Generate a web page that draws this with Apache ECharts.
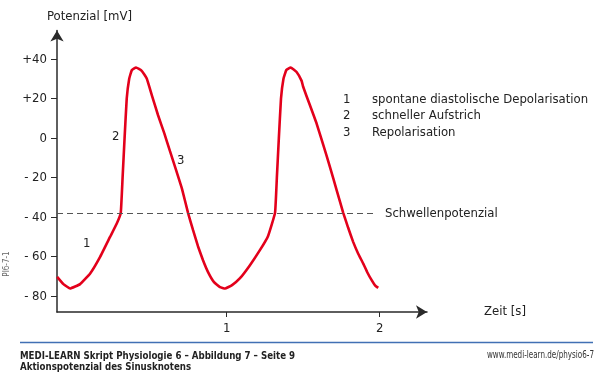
<!DOCTYPE html>
<html>
<head>
<meta charset="utf-8">
<script src="https://cdn.jsdelivr.net/npm/echarts@6/dist/echarts.min.js"></script>
<style>
  html, body { margin: 0; padding: 0; background: #ffffff; }
  #chart { width: 600px; height: 382px; }
</style>
</head>
<body>
<div id="chart"></div>
<script>
// ---- data ----
const timeS = [
  -0.109, -0.068, -0.024, 0.041, 0.107, 0.172, 0.237, 0.281, 0.307,
  0.319, 0.332, 0.346, 0.362, 0.379, 0.407, 0.444, 0.477, 0.512, 0.551,
  0.592, 0.629, 0.669, 0.708, 0.747, 0.780, 0.812, 0.845, 0.878, 0.917,
  0.956, 0.989, 1.035, 1.087, 1.152, 1.217, 1.270, 1.316,
  1.328, 1.341, 1.355, 1.371, 1.390, 1.418, 1.457, 1.490, 1.500, 1.545,
  1.588, 1.632, 1.675, 1.718, 1.762, 1.795, 1.827, 1.860, 1.893, 1.920,
  1.948, 1.970, 1.991
];
const potentialMV = [
  -70.2, -73.9, -76.1, -73.9, -68.5, -60.1, -50.0, -43.2, -37.8,
  -20.0, 0.0, 20.0, 30.0, 34.4, 35.8, 34.1, 30.2, 21.3, 11.6,
  2.4, -6.6, -16.2, -25.8, -37.8, -46.6, -54.7, -61.8, -67.8, -72.9,
  -75.4, -76.1, -74.4, -70.9, -64.3, -56.7, -49.6, -37.8,
  -20.0, 0.0, 20.0, 30.0, 34.5, 35.8, 33.5, 29.0, 26.0, 16.5,
  7.4, -3.5, -14.5, -26.0, -37.8, -45.5, -52.5, -58.5, -63.5, -68.0,
  -71.9, -74.5, -75.8
];
const thresholdMV = -38;
const yTickValues = [-80, -60, -40, -20, 0, 20, 40];
const xTickValues = [1, 2];
const legendNumbers = ['1', '2', '3'];
const legendTexts = ['spontane diastolische Depolarisation', 'schneller Aufstrich', 'Repolarisation'];

// ---- chart ----
const FONT = "'DejaVu Sans Condensed', 'Liberation Sans Narrow', 'Liberation Sans', sans-serif";
const TXT = '#222222';
const seriesData = timeS.map((t, i) => [t, potentialMV[i]]);
const xMin = -0.11, xMax = 2.31, dashEnd = 1.97;

const fmtY = v => v > 0 ? '+' + v : (v < 0 ? '- ' + Math.abs(v) : '0');

const graphics = [];
legendNumbers.forEach((n, i) => {
  graphics.push({ type: 'text', left: 343, top: 93 + i * 16.5,
    style: { text: n, font: '13px ' + FONT, fill: TXT } });
  graphics.push({ type: 'text', left: 372, top: 93 + i * 16.5,
    style: { text: legendTexts[i], font: '13px ' + FONT, fill: TXT } });
});
graphics.push(
  { type: 'text', left: 83, top: 237, style: { text: '1', font: '13px ' + FONT, fill: TXT } },
  { type: 'text', left: 112, top: 130, style: { text: '2', font: '13px ' + FONT, fill: TXT } },
  { type: 'text', left: 177, top: 154, style: { text: '3', font: '13px ' + FONT, fill: TXT } },
  { type: 'text', x: 7, y: 264, rotation: Math.PI / 2,
    style: { text: 'PI6-7-1', font: '8px ' + FONT, fill: '#666', align: 'center', verticalAlign: 'middle' } },
  { type: 'line', shape: { x1: 20, y1: 342.5, x2: 593, y2: 342.5 },
    style: { stroke: '#4170b4', lineWidth: 1.6 } },
  { type: 'text', x: 20, y: 356, scaleX: 0.875,
    style: { text: 'MEDI-LEARN Skript Physiologie 6 – Abbildung 7 – Seite 9', font: 'bold 11px ' + FONT,
      fill: TXT, align: 'left', verticalAlign: 'middle' } },
  { type: 'text', x: 20, y: 367.5, scaleX: 0.875,
    style: { text: 'Aktionspotenzial des Sinusknotens', font: 'bold 11px ' + FONT,
      fill: TXT, align: 'left', verticalAlign: 'middle' } },
  { type: 'text', x: 594, y: 355.5, scaleX: 0.8,
    style: { text: 'www.medi-learn.de/physio6-7', font: '10px ' + FONT, fill: '#333',
      align: 'right', verticalAlign: 'middle' } }
);

const chart = echarts.init(document.getElementById('chart'), null, { renderer: 'canvas' });
chart.setOption({
  animation: false,
  backgroundColor: '#ffffff',
  title: {
    text: 'Potenzial [mV]', left: 42, top: 5,
    textStyle: { fontFamily: FONT, fontSize: 13, fontWeight: 'normal', color: TXT }
  },
  grid: { left: 57, right: 173, top: 30.5, bottom: 70, containLabel: false },
  xAxis: {
    type: 'value', min: xMin, max: xMax,
    name: 'Zeit [s]', nameLocation: 'end', nameGap: 57,
    nameTextStyle: { fontFamily: FONT, fontSize: 13, color: TXT },
    axisLine: { onZero: false, symbol: ['none', 'arrow'], symbolSize: [10, 11],
      lineStyle: { color: '#2a2a2a', width: 1.5 } },
    axisTick: { show: true, customValues: xTickValues, length: 5, lineStyle: { color: '#2a2a2a', width: 1 } },
    axisLabel: { customValues: xTickValues, margin: 10, fontFamily: FONT, fontSize: 13, color: TXT },
    splitLine: { show: false }
  },
  yAxis: {
    type: 'value', min: -88, max: 54.5,
    axisLine: { show: true, onZero: false, symbol: ['none', 'arrow'], symbolSize: [10, 11],
      lineStyle: { color: '#2a2a2a', width: 1.5 } },
    axisTick: { show: true, customValues: yTickValues, length: 6, lineStyle: { color: '#2a2a2a', width: 1 } },
    axisLabel: { customValues: yTickValues, margin: 10, formatter: fmtY,
      fontFamily: FONT, fontSize: 13, color: TXT },
    splitLine: { show: false }
  },
  series: [{
    type: 'line',
    data: seriesData,
    showSymbol: false,
    smooth: 0.1,
    lineStyle: { color: '#e3001b', width: 2.6 },
    markLine: {
      silent: true,
      symbol: ['none', 'none'],
      lineStyle: { color: '#555555', type: [6, 4], width: 1.2 },
      label: { show: true, position: 'end', distance: 10, formatter: 'Schwellenpotenzial',
        fontFamily: FONT, fontSize: 13, color: TXT },
      data: [[{ coord: [xMin, thresholdMV] }, { coord: [dashEnd, thresholdMV] }]]
    },
    z: 3
  }],
  graphic: graphics
});
</script>
</body>
</html>
